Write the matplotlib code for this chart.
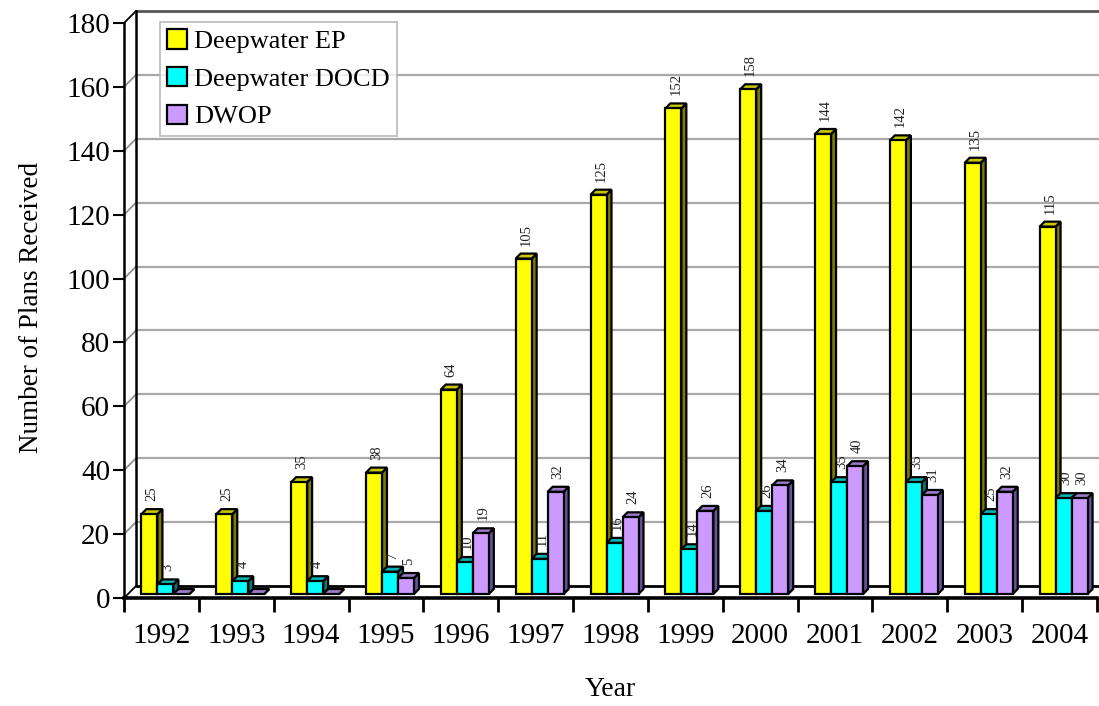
import matplotlib
matplotlib.use("Agg")
import matplotlib.pyplot as plt
from matplotlib.patches import Polygon, Patch

plt.rcParams['font.family'] = ['Liberation Serif', 'DejaVu Serif']

years = ['1992', '1993', '1994', '1995', '1996', '1997', '1998',
         '1999', '2000', '2001', '2002', '2003', '2004']
deepwater_ep = [25, 25, 35, 38, 64, 105, 125, 152, 158, 144, 142, 135, 115]
deepwater_docd = [3, 4, 4, 7, 10, 11, 16, 14, 26, 35, 35, 25, 30]
dwop = [0, 0, 0, 5, 19, 32, 24, 26, 34, 40, 31, 32, 30]
series_names = ['Deepwater EP', 'Deepwater DOCD', 'DWOP']
y_ticks = [0, 20, 40, 60, 80, 100, 120, 140, 160, 180]

face_colors = ['#FFFF00', '#00FFFF', '#CC99FF']
top_colors = ['#C8C800', '#00B4B4', '#9C7CC8']
side_colors = ['#7A7A00', '#007A7A', '#6A52A0']

W, H = 1099, 706
fig = plt.figure(figsize=(W / 100, H / 100), dpi=100)
ax = fig.add_axes([124 / W, 108 / H, 973 / W, 575 / H])
n = len(years)
ax.set_xlim(-0.5, n - 0.5)
ax.set_ylim(0, 180)
for s in ax.spines.values():
    s.set_visible(False)

# pixels per data unit, used to express the 3-D depth offsets in data units
ux = (ax.transData.transform((1, 0)) - ax.transData.transform((0, 0)))[0]
uy = (ax.transData.transform((0, 1)) - ax.transData.transform((0, 0)))[1]


def dep(px):
    return px / ux, px / uy


wall = 12  # depth of the back wall in pixels
wx, wy = dep(wall)
x_left, x_right = -0.5, n - 0.5
x_edge = x_right + 2 / ux

# back wall: gridlines, wall frame and diagonals from the front axis
for t in y_ticks:
    if t == 0:
        col, lw = 'black', 2.0
    elif t == 180:
        col, lw = '#555555', 2.0
    else:
        col, lw = '#A8A8A8', 1.6
    ax.plot([x_left + wx, x_edge], [t + wy, t + wy], color=col, lw=lw,
            clip_on=False, zorder=1, solid_capstyle='butt')
    dcol = 'black' if t in (0, 180) else '#909090'
    ax.plot([x_left, x_left + wx], [t, t + wy], color=dcol, lw=1.3,
            clip_on=False, zorder=1)
ax.plot([x_left + wx, x_left + wx], [wy, 180 + wy], color='black', lw=1.8,
        clip_on=False, zorder=1)
ax.plot([x_left, x_left], [0, 180], color='black', lw=1.8, clip_on=False,
        zorder=6)
ax.plot([x_left, x_right], [0, 0], color='black', lw=2.6, clip_on=False,
        zorder=6)

# 3-D bars
bar_w = 16 / ux
d1x, d1y = dep(4)
d2x, d2y = dep(9)
series = [deepwater_ep, deepwater_docd, dwop]
for i in range(n):
    for k, vals in enumerate(series):
        v = vals[i]
        x0 = i - 1.5 * bar_w + k * bar_w + d1x
        x1 = x0 + bar_w
        yb = d1y
        yt = v + d1y
        ec = dict(edgecolor='black', linewidth=1.6, joinstyle='miter',
                  clip_on=False, zorder=3)
        side = Polygon([(x1, yb), (x1 + (d2x - d1x), yb + (d2y - d1y)),
                        (x1 + (d2x - d1x), yt + (d2y - d1y)), (x1, yt)],
                       facecolor=side_colors[k], **ec)
        top = Polygon([(x0, yt), (x1, yt), (x1 + (d2x - d1x), yt + (d2y - d1y)),
                       (x0 + (d2x - d1x), yt + (d2y - d1y))],
                      facecolor=top_colors[k], **ec)
        ax.add_patch(side)
        ax.add_patch(top)
        if v > 0:
            front = Polygon([(x0, yb), (x1, yb), (x1, yt), (x0, yt)],
                            facecolor=face_colors[k], **ec)
            ax.add_patch(front)
            ax.text((x0 + x1) / 2 + (d2x - d1x) / 2,
                    yt + (d2y - d1y) + 8 / uy, str(v), rotation=90,
                    ha='center', va='bottom', fontsize=10.5, color='#222222',
                    zorder=4, clip_on=False)

# axes ticks
ax.set_yticks(y_ticks)
ax.set_yticklabels([str(t) for t in y_ticks], fontsize=21)
ax.tick_params(axis='y', direction='out', length=8, width=1.5, pad=2)
ax.set_xticks([i - 0.5 for i in range(n + 1)])
ax.set_xticklabels([''] * (n + 1))
ax.tick_params(axis='x', which='major', direction='out', length=10, width=2)
ax.set_xticks(range(n), minor=True)
ax.set_xticklabels(years, minor=True, fontsize=21)
ax.tick_params(axis='x', which='minor', length=0, pad=18)

fig.text(32 / W, 1 - 307 / H, 'Number of Plans Received', rotation=90,
         ha='center', va='center', fontsize=19.5)
fig.text(610 / W, 1 - 690 / H, 'Year', ha='center', va='center', fontsize=20)

handles = [Patch(facecolor=c, edgecolor='black', linewidth=1.6)
           for c in face_colors]
leg = fig.legend(handles, series_names, loc='upper left',
                 bbox_to_anchor=(160 / W, 1 - 22 / H), fontsize=19,
                 fancybox=False, frameon=True, edgecolor='#B0B0B0',
                 handlelength=0.75, handleheight=0.75, handletextpad=0.25,
                 labelspacing=0.52, borderpad=0.28, borderaxespad=0)
leg.get_frame().set_linewidth(1.3)

fig.savefig('out.png', dpi=100, facecolor='white')
